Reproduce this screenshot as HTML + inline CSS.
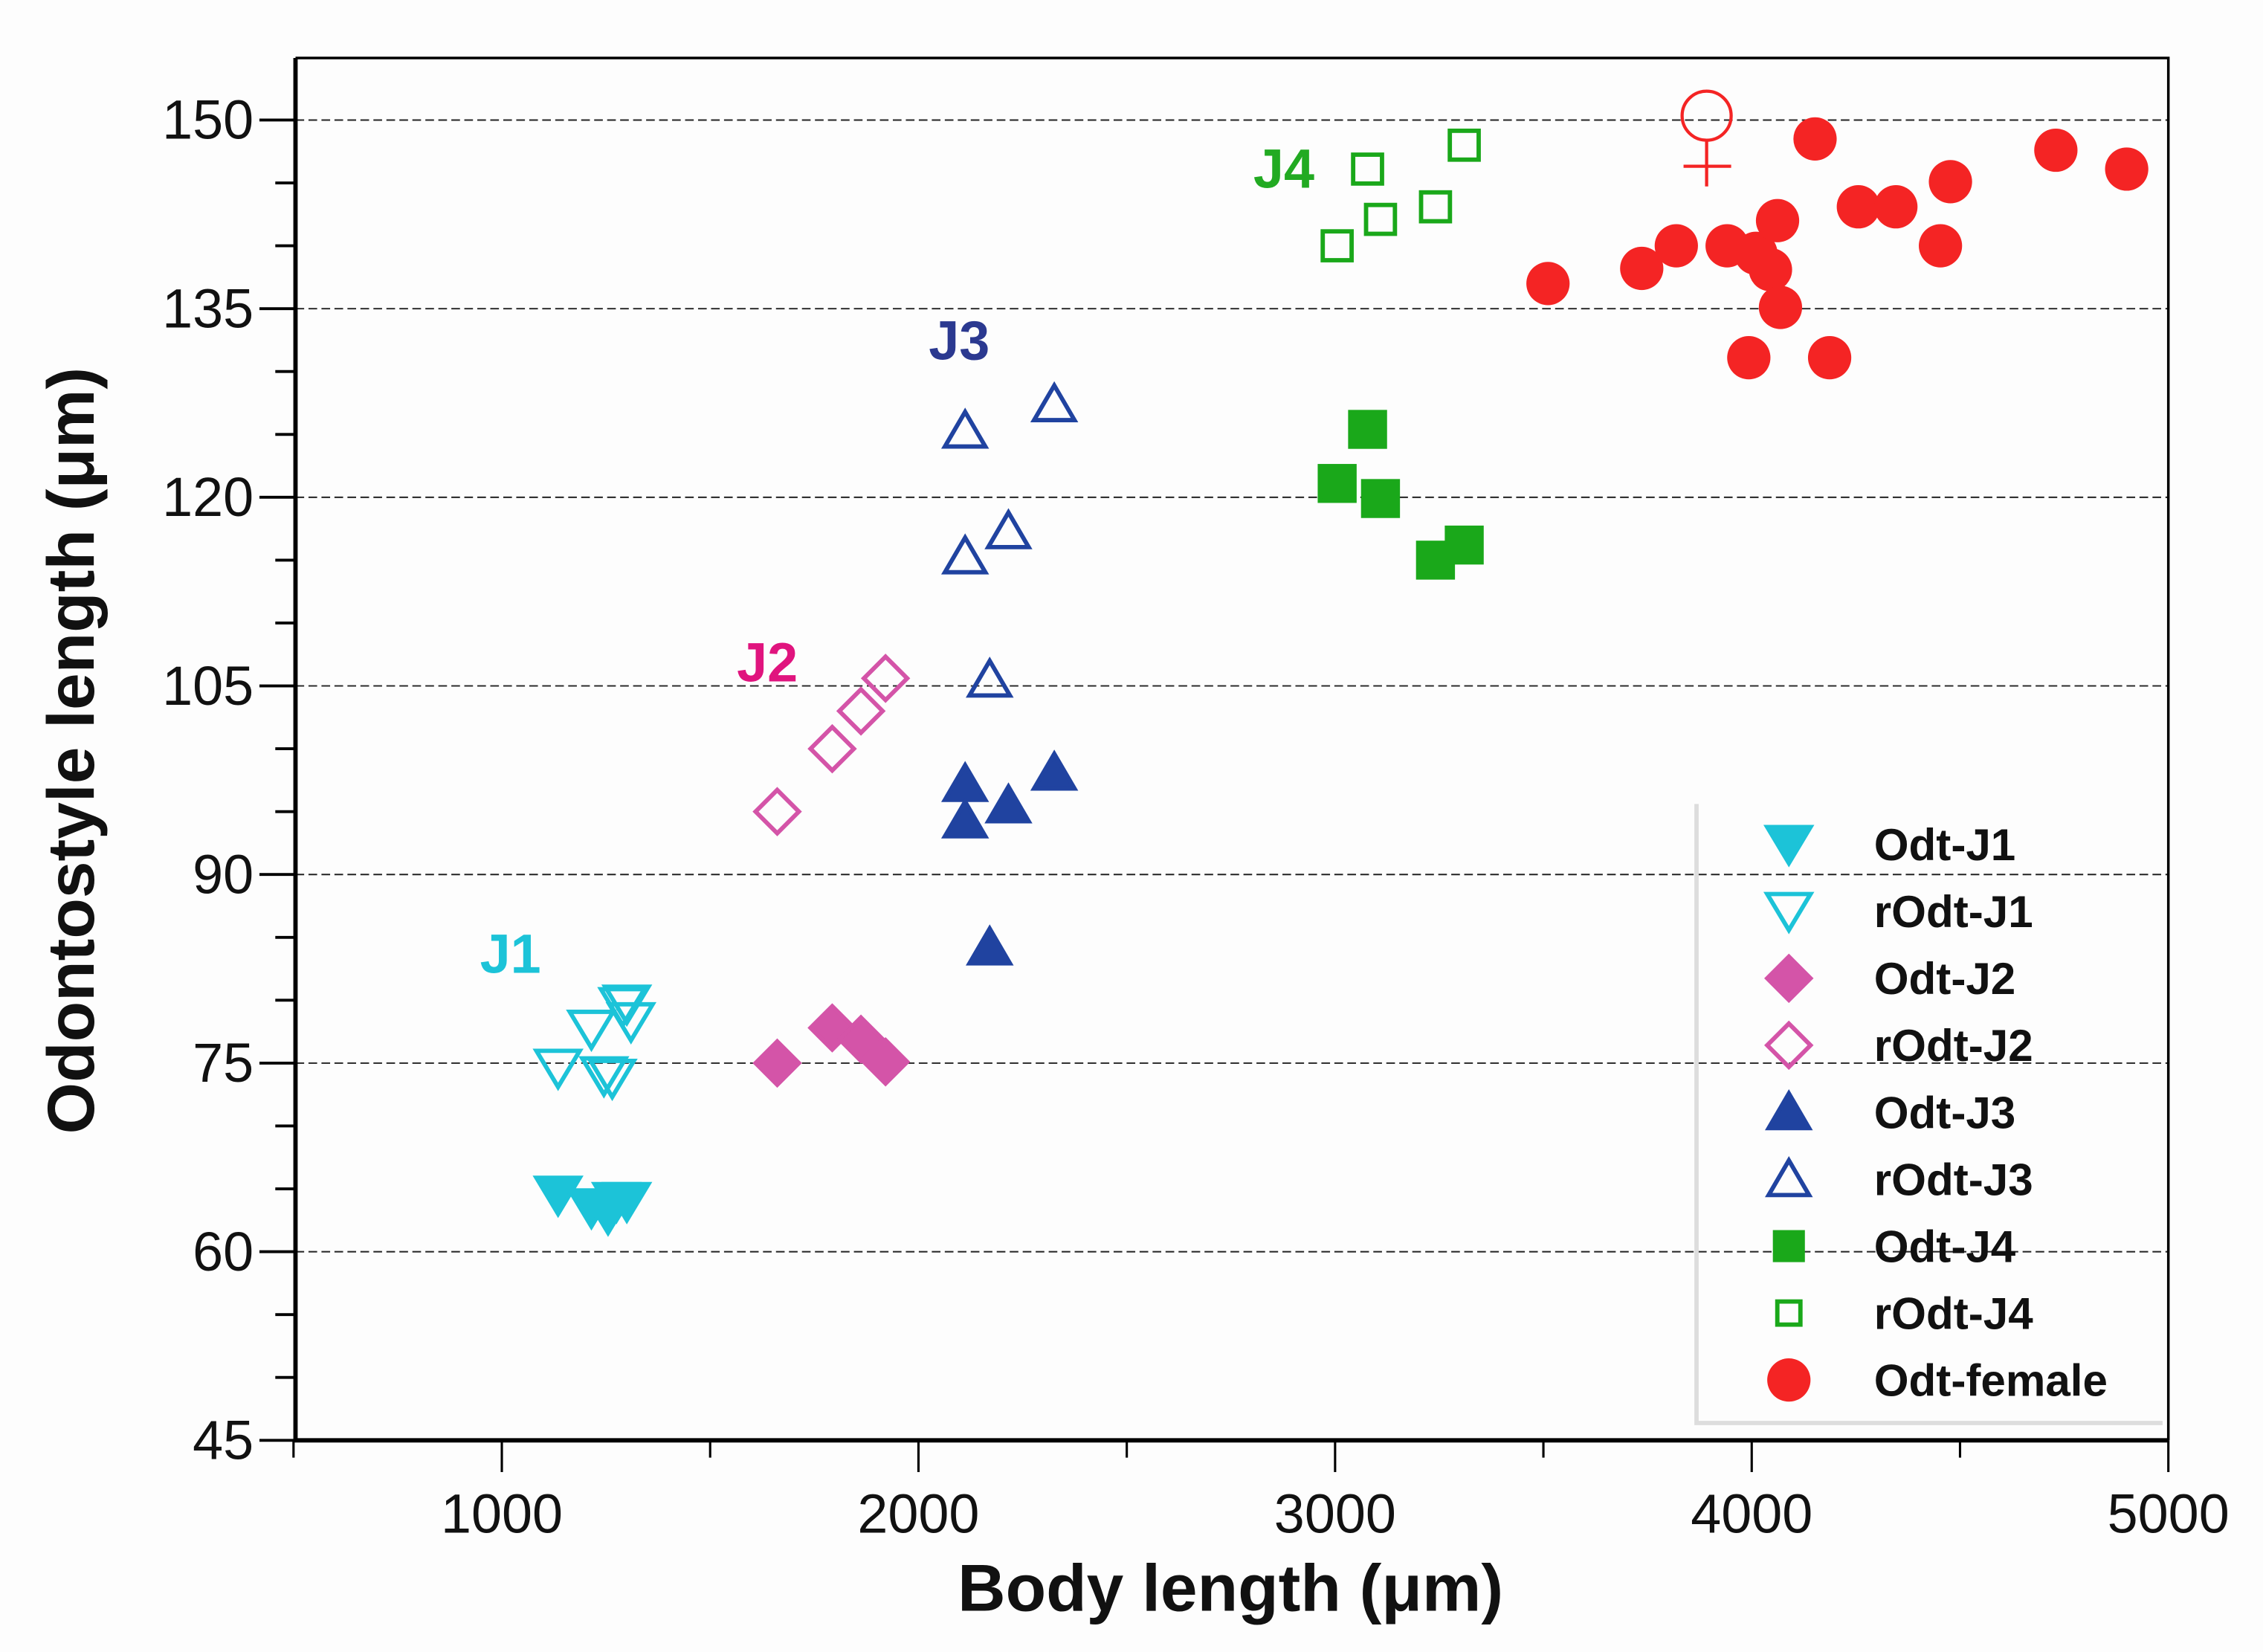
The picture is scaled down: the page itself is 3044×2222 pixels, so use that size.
<!DOCTYPE html>
<html><head><meta charset="utf-8"><style>html,body{margin:0;padding:0;background:#fdfdfd}svg{display:block}</style></head>
<body>
<svg id="chart" width="3044" height="2222" viewBox="-1.8 -0.2 1568.4 1144.9" preserveAspectRatio="none" xmlns="http://www.w3.org/2000/svg" font-family="Liberation Sans, Arial, sans-serif">
<rect x="-10" y="-10" width="1600" height="1170" fill="#fdfdfd"/>
<g id="grid"></g>
<g id="axes"></g>
<g id="marks"></g>
<g id="legend"></g>
</svg>
<script>
const xTicks = [1000, 2000, 3000, 4000, 5000];
const yTicks = [45, 60, 75, 90, 105, 120, 135, 150];
const odtJ1 = [[1135,64.5],[1215,63.5],[1255,63],[1275,64],[1300,64]];
const rodtJ1 = [[1135,74.6],[1215,77.7],[1245,74],[1265,73.8],[1300,79.7],[1310,78.3],[1290,79.5]];
const odtJ2 = [[1661,75],[1793,77.8],[1862,76.9],[1921,75.1]];
const rodtJ2 = [[1661,95],[1793,100],[1862,103],[1921,105.6]];
const odtJ3 = [[2112,97.2],[2112,94.3],[2216,95.5],[2326,98.1],[2171,84.2]];
const rodtJ3 = [[2112,125.3],[2112,115.3],[2216,117.3],[2326,127.4],[2171,105.5]];
const odtJ4 = [[3005,121.1],[3078,125.4],[3109,119.9],[3241,115],[3310,116.2]];
const rodtJ4 = [[3005,140],[3078,146.1],[3109,142.1],[3241,143.1],[3310,148]];
const odtFemale = [[3511,137],[3736,138.2],[3819,140],[3941,140],[3993,131.1],[4010,139.4],[4045,138.1],[4062,142],[4069,135.1],[4152,148.5],[4187,131.1],[4256,143.1],[4346,143.1],[4453,140],[4477,145.1],[4730,147.6],[4900,146.1]];
const legendLabels = ['Odt-J1','rOdt-J1','Odt-J2','rOdt-J2','Odt-J3','rOdt-J3','Odt-J4','rOdt-J4','Odt-female'];

const NS='http://www.w3.org/2000/svg';
const X0=203, X1=1501, Y0=40, Y1=998;
function sx(v){return 346+(v-1000)*0.28875;}
function sy(v){return 998-(v-45)*(915/105);}
function mk(tag, attrs, parent){const e=document.createElementNS(NS,tag);for(const k in attrs)e.setAttribute(k,attrs[k]);parent.appendChild(e);return e;}
const grid=document.getElementById('grid'), axes=document.getElementById('axes'), marks=document.getElementById('marks'), legend=document.getElementById('legend');

yTicks.forEach(v=>{
  if(v>45){const l=mk('line',{x1:X0,x2:X1,y1:sy(v),y2:sy(v),stroke:'#222','stroke-width':1,'stroke-dasharray':'6 3'},grid);
  
  }
  const t=mk('line',{x1:178,x2:X0,y1:sy(v),y2:sy(v),stroke:'#000','stroke-width':2},axes);
  
  
  const tx=mk('text',{x:174,y:sy(v)+13,'text-anchor':'end','font-size':38,fill:'#111'},axes);
  tx.textContent=v;
  
  
});
for(let v=50;v<155;v+=5){ if(v%15===0) continue;
  const t=mk('line',{x1:189,x2:X0,y1:sy(v),y2:sy(v),stroke:'#000','stroke-width':2},axes);
  
  
}
for(let v=500;v<=5000;v+=500){
  const major=v%1000===0;
  const t=mk('line',{x1:sx(v),x2:sx(v),y1:Y1,y2:Y1+(major?22:12),stroke:'#000','stroke-width':1.6},axes);
  
  
}
xTicks.forEach(v=>{
  const tx=mk('text',{x:sx(v),y:1062,'text-anchor':'middle','font-size':38,fill:'#111'},axes);
  tx.textContent=v;
  
  
});
const frame=mk('path',{d:`M${X0} ${Y0} H${X1} V${Y1}`,fill:'none',stroke:'#000','stroke-width':1.8},axes);


const la=mk('path',{d:`M${X0} ${Y0} V${Y1} H${X1}`,fill:'none',stroke:'#000','stroke-width':3},axes);


const xt=mk('text',{x:851,y:1116,'text-anchor':'middle','font-size':46,'font-weight':'bold',fill:'#111'},axes);
xt.textContent='Body length (\u03bcm)';


const yt=mk('text',{x:0,y:0,'text-anchor':'middle','font-size':46,'font-weight':'bold',fill:'#111',transform:'translate(63,520) rotate(-90)'},axes);
yt.textContent='Odontostyle length (\u03bcm)';



const CY='#1cc3d8', PK='#d454a8', NV='#2043a0', GR='#1aa81a', RD='#f42424';
function marker(shape,color,filled,x,y,parent,sc){
  sc=sc||1;
  const sw=3, fill=filled?color:'none';
  if(shape==='down'){return mk('polygon',{points:`${x-15},${y-12} ${x+15},${y-12} ${x},${y+13}`,fill,stroke:color,'stroke-width':sw,'stroke-linejoin':'miter'},parent);}
  if(shape==='up'){return mk('polygon',{points:`${x-14},${y+11} ${x+14},${y+11} ${x},${y-13}`,fill,stroke:color,'stroke-width':sw},parent);}
  if(shape==='diamond'){return mk('polygon',{points:`${x},${y-15} ${x+15},${y} ${x},${y+15} ${x-15},${y}`,fill,stroke:color,'stroke-width':sw},parent);}
  if(shape==='square'){const s=(filled?12:10)*sc;return mk('rect',{x:x-s,y:y-s,width:2*s,height:2*s,fill,stroke:color,'stroke-width':sw},parent);}
  return mk('circle',{cx:x,cy:y,r:15,fill:color},parent);
}
const series=[
  [odtJ1,'down',CY,true],[rodtJ1,'down',CY,false],[odtJ2,'diamond',PK,true],[rodtJ2,'diamond',PK,false],
  [odtJ3,'up',NV,true],[rodtJ3,'up',NV,false],[odtJ4,'square',GR,true],[rodtJ4,'square',GR,false],[odtFemale,'circle',RD,true]];
series.forEach((s,i)=>{
  s[0].forEach(p=>{
    const m=marker(s[1],s[2],s[3],sx(p[0]),sy(p[1]),marks);
    
    
  });
});
[['J1',352,CY],['J2',530,'#e0147e'],['J3',663,'#2b3990'],['J4',888,'#22aa22']].forEach((g,i)=>{
  const yy=[674,472,249,130][i];
  const t=mk('text',{x:g[1],y:yy,'text-anchor':'middle','font-size':38,'font-weight':'bold',fill:g[2]},marks);
  t.textContent=g[0];
  
  
});
const fs=mk('g',{stroke:RD,'stroke-width':2.2,fill:'none'},marks);


mk('circle',{cx:1181,cy:80,r:17},fs);
mk('line',{x1:1181,y1:97,x2:1181,y2:129},fs);
mk('line',{x1:1165,y1:115,x2:1198,y2:115},fs);

const lb=mk('path',{d:'M1174 557 V986 H1497',fill:'none',stroke:'#ddd','stroke-width':3},legend);


legendLabels.forEach((lab,i)=>{
  const y=585+i*46.4;
  const s=series[i];
  const m=marker(s[1],s[2],s[3],1238,y,legend,s[1]==='square'?0.8:1);
  
  
  const t=mk('text',{x:1297,y:y+11,'font-size':31,'font-weight':'bold',fill:'#111'},legend);
  t.textContent=lab;
  
  
});
</script>
</body></html>
